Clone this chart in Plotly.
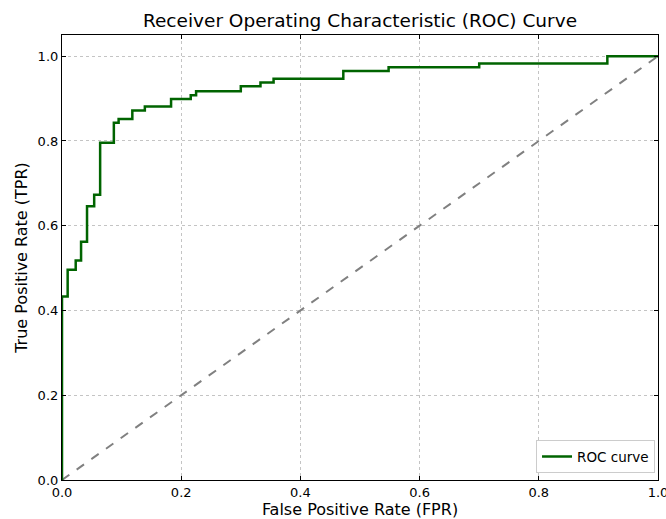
import plotly.graph_objects as go

# ROC curve points (step vertices)
fpr = [0.0, 0.0, 0.0095, 0.0095, 0.023, 0.023, 0.032, 0.032, 0.042, 0.042,
       0.054, 0.054, 0.064, 0.064, 0.087, 0.087, 0.095, 0.095, 0.118, 0.118,
       0.139, 0.139, 0.183, 0.183, 0.216, 0.216, 0.225, 0.225, 0.300, 0.300,
       0.333, 0.333, 0.355, 0.355, 0.472, 0.472, 0.548, 0.548, 0.700, 0.700,
       0.915, 0.915, 1.0]
tpr = [0.0, 0.433, 0.433, 0.496, 0.496, 0.518, 0.518, 0.562, 0.562, 0.646,
       0.646, 0.673, 0.673, 0.796, 0.796, 0.843, 0.843, 0.852, 0.852, 0.872,
       0.872, 0.881, 0.881, 0.899, 0.899, 0.908, 0.908, 0.917, 0.917, 0.929,
       0.929, 0.938, 0.938, 0.947, 0.947, 0.965, 0.965, 0.974, 0.974, 0.983,
       0.983, 1.0, 1.0]
diag = [0, 1]

fig = go.Figure()
fig.add_trace(go.Scatter(x=diag, y=diag, mode="lines", showlegend=False,
                         line=dict(color="grey", width=2, dash="dash")))
fig.add_trace(go.Scatter(x=fpr, y=tpr, mode="lines", name="ROC curve",
                         line=dict(color="darkgreen", width=2.5)))

axis_style = dict(showline=True, linecolor="black", linewidth=1.2, mirror="allticks",
                  ticks="inside", ticklen=4, tickcolor="black",
                  showgrid=True, gridcolor="#c4c4c4", griddash="dot", gridwidth=1,
                  zeroline=False, tickfont=dict(size=13, color="black"),
                  tickformat=".1f", dtick=0.2, automargin=False,
                  ticklabeloverflow="allow")

fig.update_xaxes(range=[0, 1], title_text="False Positive Rate (FPR)",
                 title_font=dict(size=16, color="black"), title_standoff=5, **axis_style)
fig.update_yaxes(range=[0, 1.05], title_text="True Positive Rate (TPR)",
                 title_font=dict(size=16, color="black"), title_standoff=6, **axis_style)

fig.update_layout(
    width=666, height=519,
    font=dict(family="DejaVu Sans", color="black"),
    title=dict(text="Receiver Operating Characteristic (ROC) Curve", xref="paper", x=0.5,
               xanchor="center", y=0.96, yanchor="middle", font=dict(size=18.5, color="black")),
    plot_bgcolor="white", paper_bgcolor="white",
    margin=dict(l=62, r=8, t=35, b=39, autoexpand=False),
    legend=dict(x=0.995, y=0.015, xanchor="right", yanchor="bottom",
                bordercolor="#cccccc", borderwidth=1, bgcolor="white",
                font=dict(size=13.5)),
)

# drop the page's default body margin so the figure sits at the window's corner
fig.write_html("out.html", config={"displayModeBar": False},
               post_script="document.body.style.margin='0';")
